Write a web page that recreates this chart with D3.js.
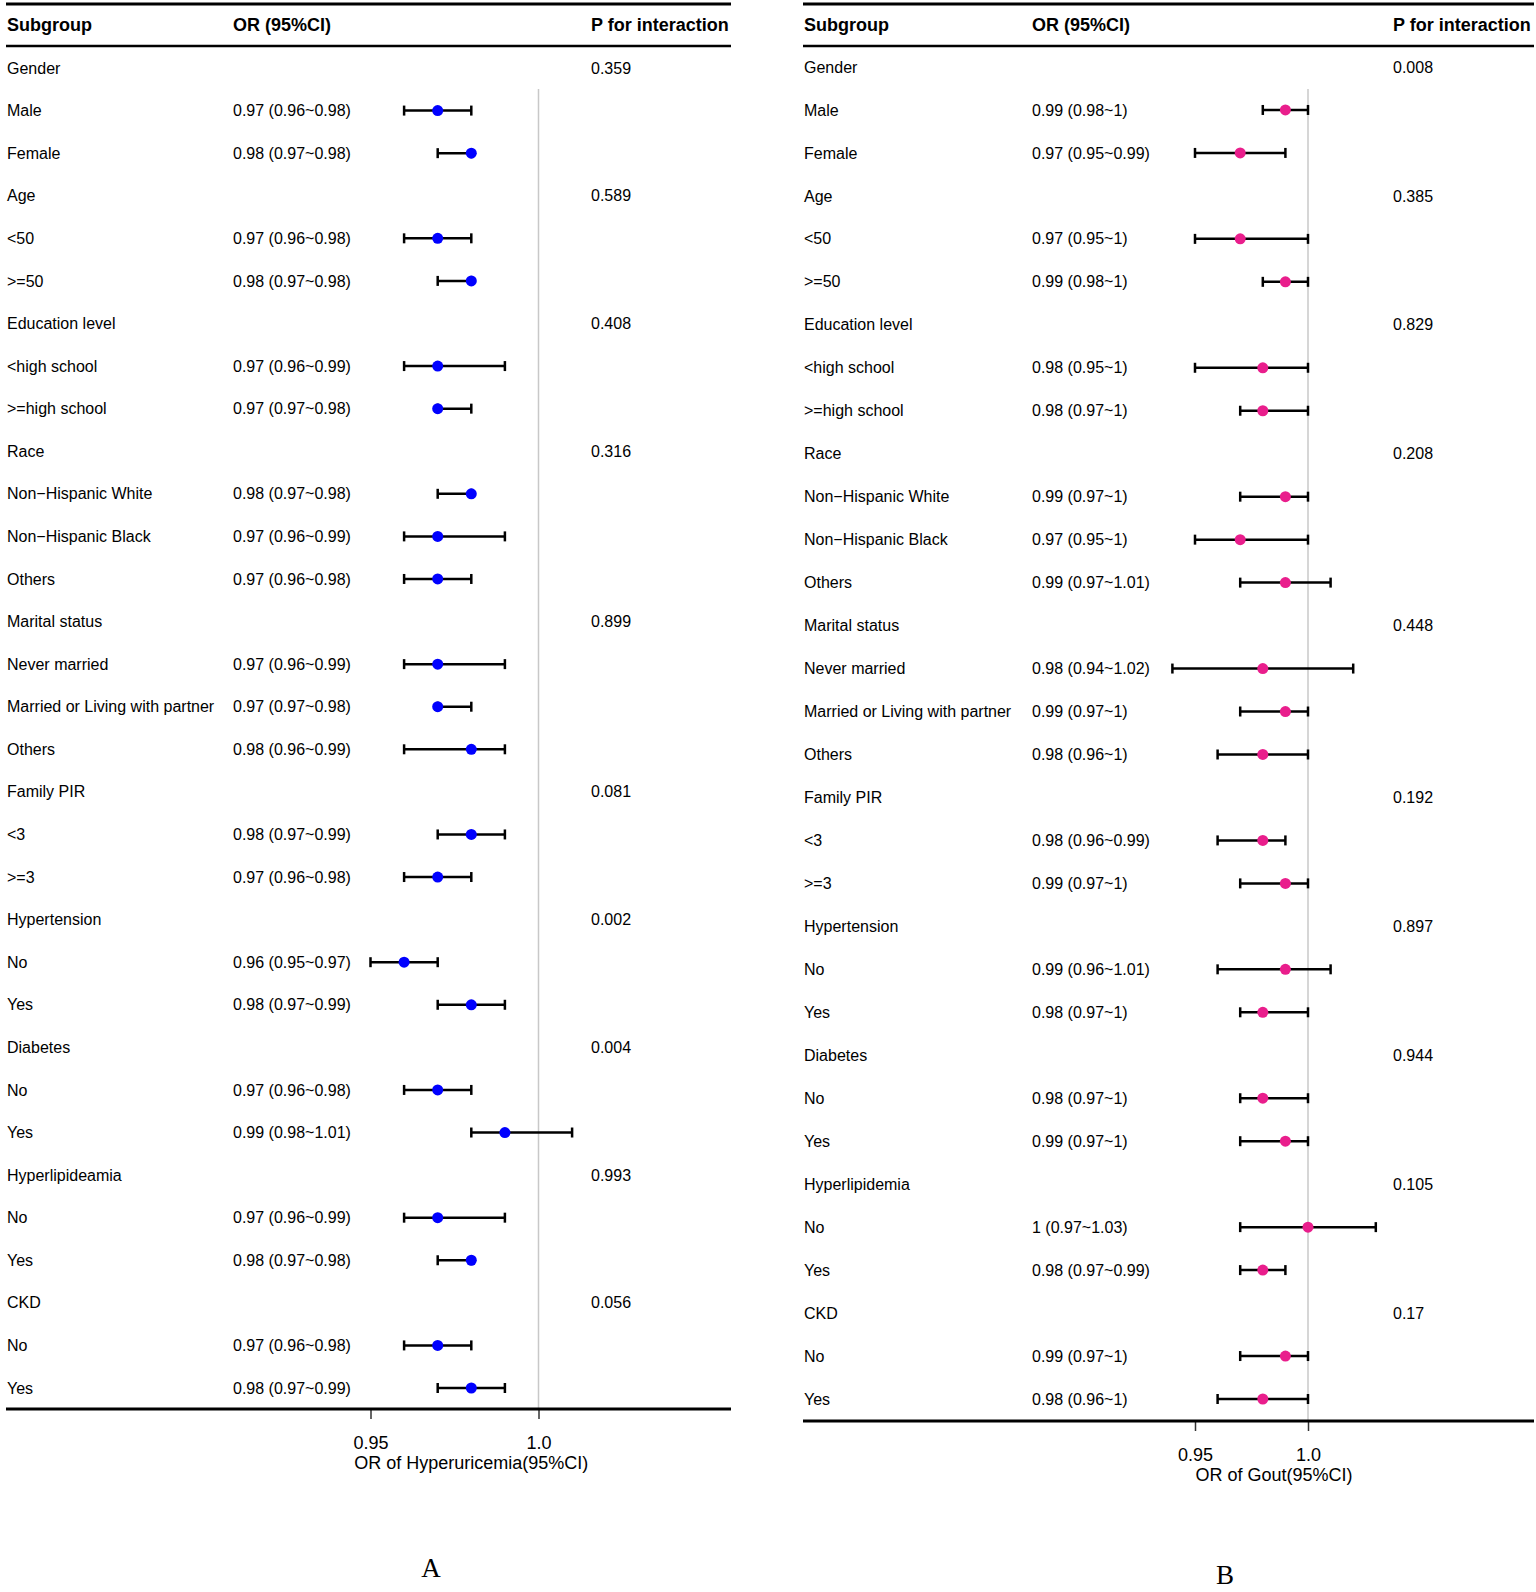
<!DOCTYPE html>
<html lang="en">
<head>
<meta charset="UTF-8" />
<title>Subgroup forest plots</title>
<script src="https://cdn.jsdelivr.net/npm/d3@7"></script>
<style>
  body { margin: 0; padding: 0; background: #fff; }
  text { font-family: "Liberation Sans", Arial, sans-serif; fill: #000; }
</style>
</head>
<body>
<script>
// subgroup rows (group headers have no estimate)
const subgroupsA = ["Gender", "Male", "Female", "Age", "<50", ">=50", "Education level", "<high school", ">=high school",
    "Race", "Non\u2212Hispanic White", "Non\u2212Hispanic Black", "Others", "Marital status", "Never married",
    "Married or Living with partner", "Others", "Family PIR", "<3", ">=3", "Hypertension", "No", "Yes",
    "Diabetes", "No", "Yes", "Hyperlipideamia", "No", "Yes", "CKD", "No", "Yes"];
const subgroupsB = subgroupsA.map(d => d === "Hyperlipideamia" ? "Hyperlipidemia" : d);

// panel A: hyperuricemia
const orA = [null, 0.97, 0.98, null, 0.97, 0.98, null, 0.97, 0.97, null, 0.98, 0.97, 0.97, null, 0.97, 0.97, 0.98,
    null, 0.98, 0.97, null, 0.96, 0.98, null, 0.97, 0.99, null, 0.97, 0.98, null, 0.97, 0.98];
const loA = [null, 0.96, 0.97, null, 0.96, 0.97, null, 0.96, 0.97, null, 0.97, 0.96, 0.96, null, 0.96, 0.97, 0.96,
    null, 0.97, 0.96, null, 0.95, 0.97, null, 0.96, 0.98, null, 0.96, 0.97, null, 0.96, 0.97];
const hiA = [null, 0.98, 0.98, null, 0.98, 0.98, null, 0.99, 0.98, null, 0.98, 0.99, 0.98, null, 0.99, 0.98, 0.99,
    null, 0.99, 0.98, null, 0.97, 0.99, null, 0.98, 1.01, null, 0.99, 0.98, null, 0.98, 0.99];
const pA = ["0.359", "0.589", "0.408", "0.316", "0.899", "0.081", "0.002", "0.004", "0.993", "0.056"];

// panel B: gout
const orB = [null, 0.99, 0.97, null, 0.97, 0.99, null, 0.98, 0.98, null, 0.99, 0.97, 0.99, null, 0.98, 0.99, 0.98,
    null, 0.98, 0.99, null, 0.99, 0.98, null, 0.98, 0.99, null, 1, 0.98, null, 0.99, 0.98];
const loB = [null, 0.98, 0.95, null, 0.95, 0.98, null, 0.95, 0.97, null, 0.97, 0.95, 0.97, null, 0.94, 0.97, 0.96,
    null, 0.96, 0.97, null, 0.96, 0.97, null, 0.97, 0.97, null, 0.97, 0.97, null, 0.97, 0.96];
const hiB = [null, 1, 0.99, null, 1, 1, null, 1, 1, null, 1, 1, 1.01, null, 1.02, 1, 1,
    null, 0.99, 1, null, 1.01, 1, null, 1, 1, null, 1.03, 0.99, null, 1, 1];
const pB = ["0.008", "0.385", "0.829", "0.208", "0.448", "0.192", "0.897", "0.944", "0.105", "0.17"];

const tickValues = [0.95, 1.0];
const tickLabels = ["0.95", "1.0"];

const svg = d3.select('body').append('svg')
    .attr('width', 1536)
    .attr('height', 1592);

function drawPanel(p) {
    const g = svg.append('g');
    const rows = p.subgroups.map((s, i) => ({ label: s, or: p.or[i], lo: p.lo[i], hi: p.hi[i] }));
    let k = 0;
    rows.forEach(r => { if (r.or === null) r.p = p.pvals[k++]; });

    const y = d3.scalePoint().domain(d3.range(rows.length)).range([p.rowTop, p.rowBottom]);
    const x = d3.scaleLinear().domain([0.95, 1.0]).range(p.xRange);

    // table rules
    g.append('line').attr('x1', p.left).attr('x2', p.right).attr('y1', 4).attr('y2', 4)
        .attr('stroke', '#000').attr('stroke-width', 3);
    g.append('line').attr('x1', p.left).attr('x2', p.right).attr('y1', 46).attr('y2', 46)
        .attr('stroke', '#000').attr('stroke-width', 2.5);

    // header
    const head = g.append('g').attr('font-weight', 'bold').attr('font-size', 18);
    head.append('text').attr('x', p.colSub).attr('y', 25).attr('dy', '0.35em').text('Subgroup');
    head.append('text').attr('x', p.colOr).attr('y', 25).attr('dy', '0.35em').text('OR (95%CI)');
    head.append('text').attr('x', p.colP).attr('y', 25).attr('dy', '0.35em').text('P for interaction');

    // reference line at OR = 1
    g.append('line').attr('x1', x(1)).attr('x2', x(1)).attr('y1', 89).attr('y2', p.axisY)
        .attr('stroke', '#c8c8c8').attr('stroke-width', 1.5);

    const row = g.selectAll('g.row').data(rows).join('g').attr('class', 'row')
        .attr('transform', (d, i) => `translate(0,${y(i)})`);

    row.append('text').attr('x', p.colSub).attr('dy', '0.35em').attr('font-size', 16).text(d => d.label);
    row.filter(d => d.or !== null).append('text').attr('x', p.colOr).attr('dy', '0.35em').attr('font-size', 16)
        .text(d => `${d.or} (${d.lo}~${d.hi})`);
    row.filter(d => d.or === null).append('text').attr('x', p.colP).attr('dy', '0.35em').attr('font-size', 16)
        .text(d => d.p);

    const est = row.filter(d => d.or !== null);
    est.append('line').attr('x1', d => x(d.lo)).attr('x2', d => x(d.hi))
        .attr('stroke', '#000').attr('stroke-width', 2.5);
    est.append('line').attr('x1', d => x(d.lo)).attr('x2', d => x(d.lo)).attr('y1', -5).attr('y2', 5)
        .attr('stroke', '#000').attr('stroke-width', 2.5);
    est.append('line').attr('x1', d => x(d.hi)).attr('x2', d => x(d.hi)).attr('y1', -5).attr('y2', 5)
        .attr('stroke', '#000').attr('stroke-width', 2.5);
    est.append('circle').attr('cx', d => x(d.or)).attr('r', 5.5).attr('fill', p.color);

    // x axis
    const axis = g.append('g').attr('transform', `translate(0,${p.axisY})`)
        .call(d3.axisBottom(x).tickValues(tickValues).tickFormat((d, i) => tickLabels[i])
            .tickSize(10).tickPadding(17));
    axis.select('.domain').remove();
    axis.selectAll('.tick line').attr('stroke', '#333').attr('stroke-width', 1.5);
    axis.selectAll('.tick text').attr('font-size', 18)
        .attr('font-family', '"Liberation Sans", Arial, sans-serif').attr('fill', '#000');
    g.append('line').attr('x1', p.left).attr('x2', p.right).attr('y1', p.axisY).attr('y2', p.axisY)
        .attr('stroke', '#000').attr('stroke-width', 3);

    const mid = (d3.min(p.lo) + d3.max(p.hi)) / 2;
    g.append('text').attr('x', x(mid)).attr('y', p.axisY + 54).attr('dy', '0.35em')
        .attr('text-anchor', 'middle').attr('font-size', 18).text(p.xTitle);

    g.append('text').attr('x', p.letterX).attr('y', p.letterY).attr('dy', '0.35em')
        .attr('text-anchor', 'middle').attr('font-size', 27)
        .style('font-family', '"Liberation Serif", "Times New Roman", serif').text(p.letter);
}

drawPanel({
    subgroups: subgroupsA, or: orA, lo: loA, hi: hiA, pvals: pA,
    color: '#0000ff', xTitle: 'OR of Hyperuricemia(95%CI)', letter: 'A',
    left: 6, right: 731, colSub: 7, colOr: 233, colP: 591,
    rowTop: 68, rowBottom: 1388, axisY: 1409, xRange: [370.5, 538.5],
    letterX: 431, letterY: 1568
});

drawPanel({
    subgroups: subgroupsB, or: orB, lo: loB, hi: hiB, pvals: pB,
    color: '#e91e8c', xTitle: 'OR of Gout(95%CI)', letter: 'B',
    left: 803, right: 1534, colSub: 804, colOr: 1032, colP: 1393,
    rowTop: 67, rowBottom: 1399, axisY: 1421, xRange: [1195, 1308],
    letterX: 1225, letterY: 1575
});
</script>
</body>
</html>
